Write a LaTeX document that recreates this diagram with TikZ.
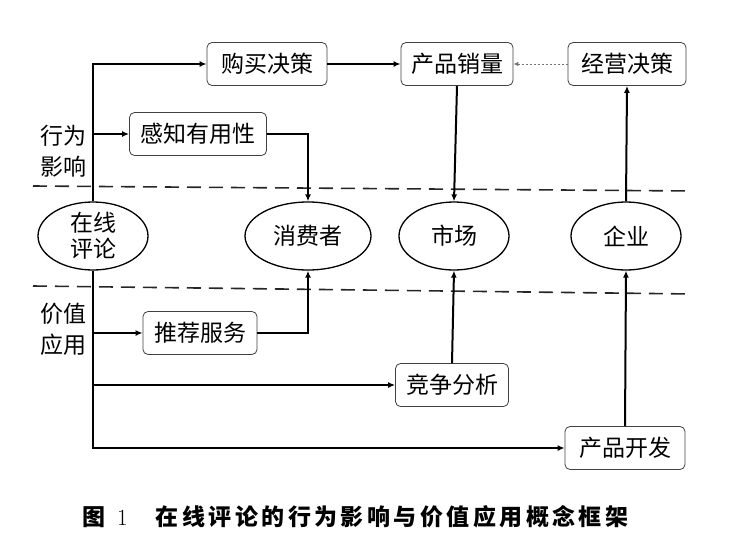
\documentclass[tikz,border=0pt]{standalone}
\usepackage{fontspec}
\newfontfamily\cjk{Noto Sans CJK SC}
\usetikzlibrary{shapes.geometric,arrows.meta}
\tikzset{
  box/.style={draw=black!75, rounded corners=5pt, line width=0.8pt, minimum height=43pt, inner sep=0pt, font=\cjk\fontsize{23}{26}\selectfont},
  ell/.style={draw, ellipse, line width=1.3pt, minimum width=110pt, minimum height=68pt, inner sep=0pt, align=center, font=\cjk\fontsize{23}{26}\selectfont},
  lbl/.style={align=center, inner sep=0pt, font=\cjk\fontsize{23}{31}\selectfont},
  arr/.style={line width=2pt, -{Latex[length=7pt,width=6pt]}},
  dots/.style={draw=black!55, line width=1pt, dash pattern=on 2pt off 2pt, -{Latex[length=5pt,width=4.5pt]}},
  sep/.style={line width=1.6pt, dash pattern=on 14pt off 8pt, black!85}
}
\begin{document}
\begin{tikzpicture}[x=1pt,y=-1pt]
\useasboundingbox (0,0) rectangle (751,551);
% separators
\draw[sep] (33,186) -- (692,191);
\draw[sep] (33,286) -- (692,294);
% boxes
\node[box, minimum width=120pt] (gm) at (267,64) {购买决策};
\node[box, minimum width=112pt] (cx) at (457,64) {产品销量};
\node[box, minimum width=118pt] (jy) at (627,64) {经营决策};
\node[box, minimum width=137pt] (gz) at (198,134) {感知有用性};
\node[box, minimum width=114pt] (tj) at (200,333) {推荐服务};
\node[box, minimum width=113pt] (jz) at (452,385) {竞争分析};
\node[box, minimum width=120pt] (cf) at (625,448) {产品开发};
% ellipses
\node[ell] (zx) at (93,236) {在线\\评论};
\node[ell, minimum width=126pt] (xf) at (308,236) {消费者};
\node[ell] (sc) at (454,236) {市场};
\node[ell] (qy) at (626,236) {企业};
% side labels
\node[lbl] (l1) at (63,151) {行为\\影响};
\node[lbl] (l2) at (63,329) {价值\\应用};
% branch points
\coordinate (b1) at (93,134);
\coordinate (b2) at (93,333);
\coordinate (b3) at (93,385);
% connectors
\draw[arr] (zx.north) |- (gm.west);
\draw[arr] (b1) -- (gz.west);
\draw[arr] (zx.south) |- (cf.west);
\draw[arr] (b2) -- (tj.west);
\draw[arr] (b3) -- (jz.west);
\draw[arr] (gm.east) -- (cx.west);
\draw[arr] (gz.east) -| (xf.north);
\draw[arr] (tj.east) -| (xf.south);
\draw[arr] (cx.south) -- (sc.north);
\draw[arr] (jz.north) -- (sc.south);
\draw[arr] (cf.north) -- (qy.south);
\draw[arr] (qy.north) -- (jy.south);
\draw[dots] (jy.west) -- (cx.east);
% caption
\node[inner sep=0pt, anchor=west, font=\cjk\bfseries\fontsize{23}{26}\selectfont] (cap) at (82,517)
  {图\hspace{12pt}{\rmfamily\mdseries 1}\hspace{28pt}{\addfontfeature{LetterSpace=15}在线评论的行为影响与价值应用概念框架}};
\end{tikzpicture}
\end{document}
